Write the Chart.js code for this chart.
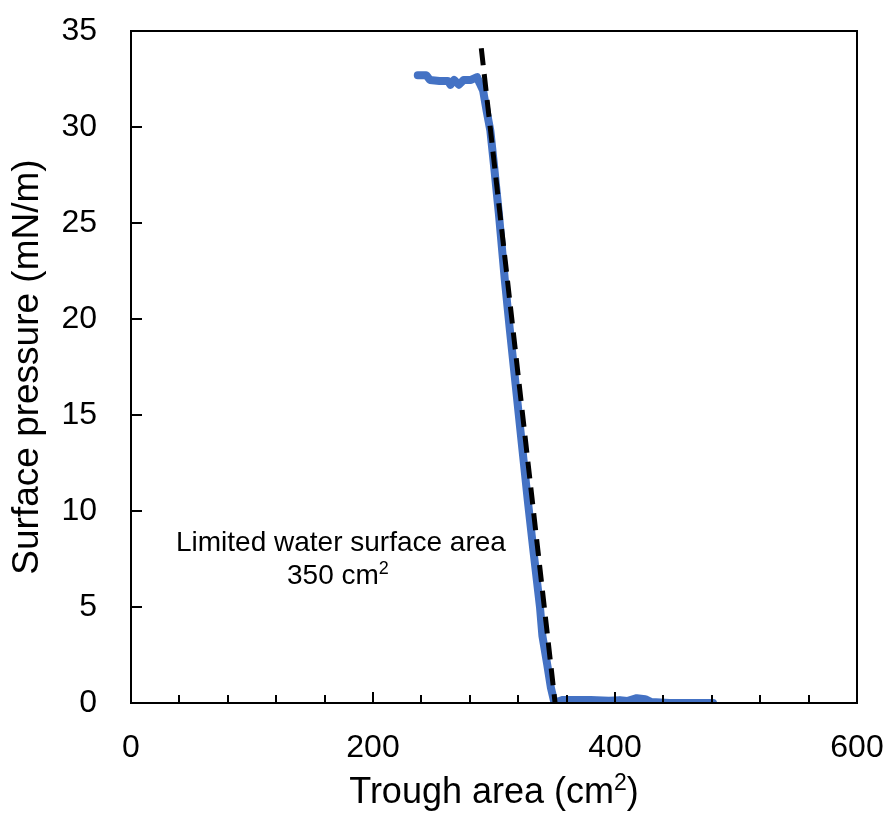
<!DOCTYPE html>
<html lang="en">
<head>
  <meta charset="UTF-8">
  <title>Surface pressure isotherm</title>
  <script src="https://cdn.jsdelivr.net/npm/chart.js"></script>
  <style>
    html, body { margin: 0; padding: 0; background: #fff; }
    #box { width: 892px; height: 817px; }
  </style>
</head>
<body>
  <div id="box"><canvas id="isoChart"></canvas></div>

<script>
// measured isotherm (trough area cm2, surface pressure mN/m)
const areaData = [237, 244, 247, 255, 262, 264, 267, 271, 275, 281, 286, 288, 291, 294, 297, 300, 304, 309, 313, 318, 323, 328, 333, 338, 340, 344, 347, 350, 356, 380, 395, 404, 410, 418, 425, 430, 445, 481];
const pressureData = [32.7, 32.7, 32.45, 32.4, 32.4, 32.2, 32.45, 32.2, 32.45, 32.45, 32.6, 32.3, 31.9, 30.8, 29.8, 28, 25.5, 22, 19.5, 16.5, 13.5, 10.5, 7.7, 5, 3.5, 2, 0.8, 0, 0.15, 0.15, 0.12, 0.15, 0.1, 0.25, 0.2, 0.05, 0, 0];

// linear fit of the condensed region
const fitArea = [289.5, 350.5];
const fitPressure = [34.1, 0];

const xTicks = [0, 200, 400, 600];
const yTicks = [0, 5, 10, 15, 20, 25, 30, 35];
const xMinorStep = 40;

const xTitle = ['Trough area (cm', '2', ')'];
const noteLines = ['Limited water surface area', ['350 cm', '2', '']];

const FONT = '"Liberation Sans", Arial, sans-serif';

const pts = (xs, ys) => xs.map((x, i) => ({ x: x, y: ys[i] }));

// text with a raised small "2"
function supText(ctx, parts, cx, y, size) {
  ctx.font = size + 'px ' + FONT;
  const w0 = ctx.measureText(parts[0]).width;
  const w2 = ctx.measureText(parts[2]).width;
  ctx.font = Math.round(size * 0.65) + 'px ' + FONT;
  const w1 = ctx.measureText(parts[1]).width;
  let x = cx - (w0 + w1 + w2) / 2;
  ctx.textAlign = 'left';
  ctx.textBaseline = 'alphabetic';
  ctx.font = size + 'px ' + FONT;
  ctx.fillText(parts[0], x, y);
  ctx.font = Math.round(size * 0.65) + 'px ' + FONT;
  ctx.fillText(parts[1], x + w0, y - size * 0.36);
  ctx.font = size + 'px ' + FONT;
  ctx.fillText(parts[2], x + w0 + w1, y);
}

// frame + inside tick marks + titles/note
const framePlugin = {
  id: 'frame',
  afterDraw(chart) {
    const ctx = chart.ctx;
    const a = chart.chartArea;
    const xs = chart.scales.x, ys = chart.scales.y;
    ctx.save();
    ctx.strokeStyle = '#000';
    ctx.lineWidth = 2;
    ctx.strokeRect(a.left, a.top, a.right - a.left, a.bottom - a.top);
    ctx.beginPath();
    for (let v = xTicks[0]; v <= xTicks[xTicks.length - 1]; v += xMinorStep) {
      const px = Math.round(xs.getPixelForValue(v));
      const len = xTicks.includes(v) ? 11 : 8;
      ctx.moveTo(px, a.bottom);
      ctx.lineTo(px, a.bottom - len);
    }
    yTicks.forEach(v => {
      const py = Math.round(ys.getPixelForValue(v));
      ctx.moveTo(a.left, py);
      ctx.lineTo(a.left + 11, py);
    });
    ctx.stroke();

    ctx.fillStyle = '#000';
    supText(ctx, xTitle, (a.left + a.right) / 2, a.bottom + 100, 36);

    ctx.font = '28px ' + FONT;
    ctx.textAlign = 'center';
    ctx.textBaseline = 'alphabetic';
    ctx.fillText(noteLines[0], xs.getPixelForValue(173.5), ys.getPixelForValue(7.9));
    supText(ctx, noteLines[1], xs.getPixelForValue(171), ys.getPixelForValue(6.2), 28);
    ctx.restore();
  }
};

const ctx = document.getElementById('isoChart').getContext('2d');

new Chart(ctx, {
  type: 'scatter',
  data: {
    datasets: [
      {
        label: 'Fit',
        data: pts(fitArea, fitPressure),
        showLine: true,
        borderColor: '#000',
        borderWidth: 5,
        borderDash: [17, 9],
        pointRadius: 0,
        order: 0
      },
      {
        label: 'Isotherm',
        data: pts(areaData, pressureData),
        showLine: true,
        borderColor: '#4472C4',
        borderWidth: 8,
        borderCapStyle: 'round',
        borderJoinStyle: 'round',
        pointRadius: 0,
        order: 1
      }
    ]
  },
  options: {
    responsive: true,
    maintainAspectRatio: false,
    animation: false,
    layout: { padding: { top: 31, right: 35, left: 0, bottom: 0 } },
    plugins: {
      legend: { display: false },
      tooltip: { enabled: false }
    },
    scales: {
      x: {
        type: 'linear',
        min: 0,
        max: 600,
        afterBuildTicks: s => { s.ticks = xTicks.map(v => ({ value: v })); },
        afterFit: s => { s.height = 114; s.paddingLeft = 0; s.paddingRight = 0; },
        grid: { display: false, drawTicks: false },
        border: { display: false },
        ticks: {
          padding: 26,
          color: '#000',
          font: { family: FONT, size: 32 }
        },
        title: { display: false }
      },
      y: {
        type: 'linear',
        min: 0,
        max: 35,
        afterBuildTicks: s => { s.ticks = yTicks.map(v => ({ value: v })); },
        afterFit: s => { s.width = 131; s.paddingTop = 0; s.paddingBottom = 0; },
        grid: { display: false, drawTicks: false },
        border: { display: false },
        ticks: {
          padding: 34,
          color: '#000',
          font: { family: FONT, size: 32 }
        },
        title: {
          display: true,
          text: 'Surface pressure (mN/m)',
          color: '#000',
          font: { family: FONT, size: 37 },
          padding: { top: 6, bottom: 0 }
        }
      }
    }
  },
  plugins: [framePlugin]
});
</script>
</body>
</html>
